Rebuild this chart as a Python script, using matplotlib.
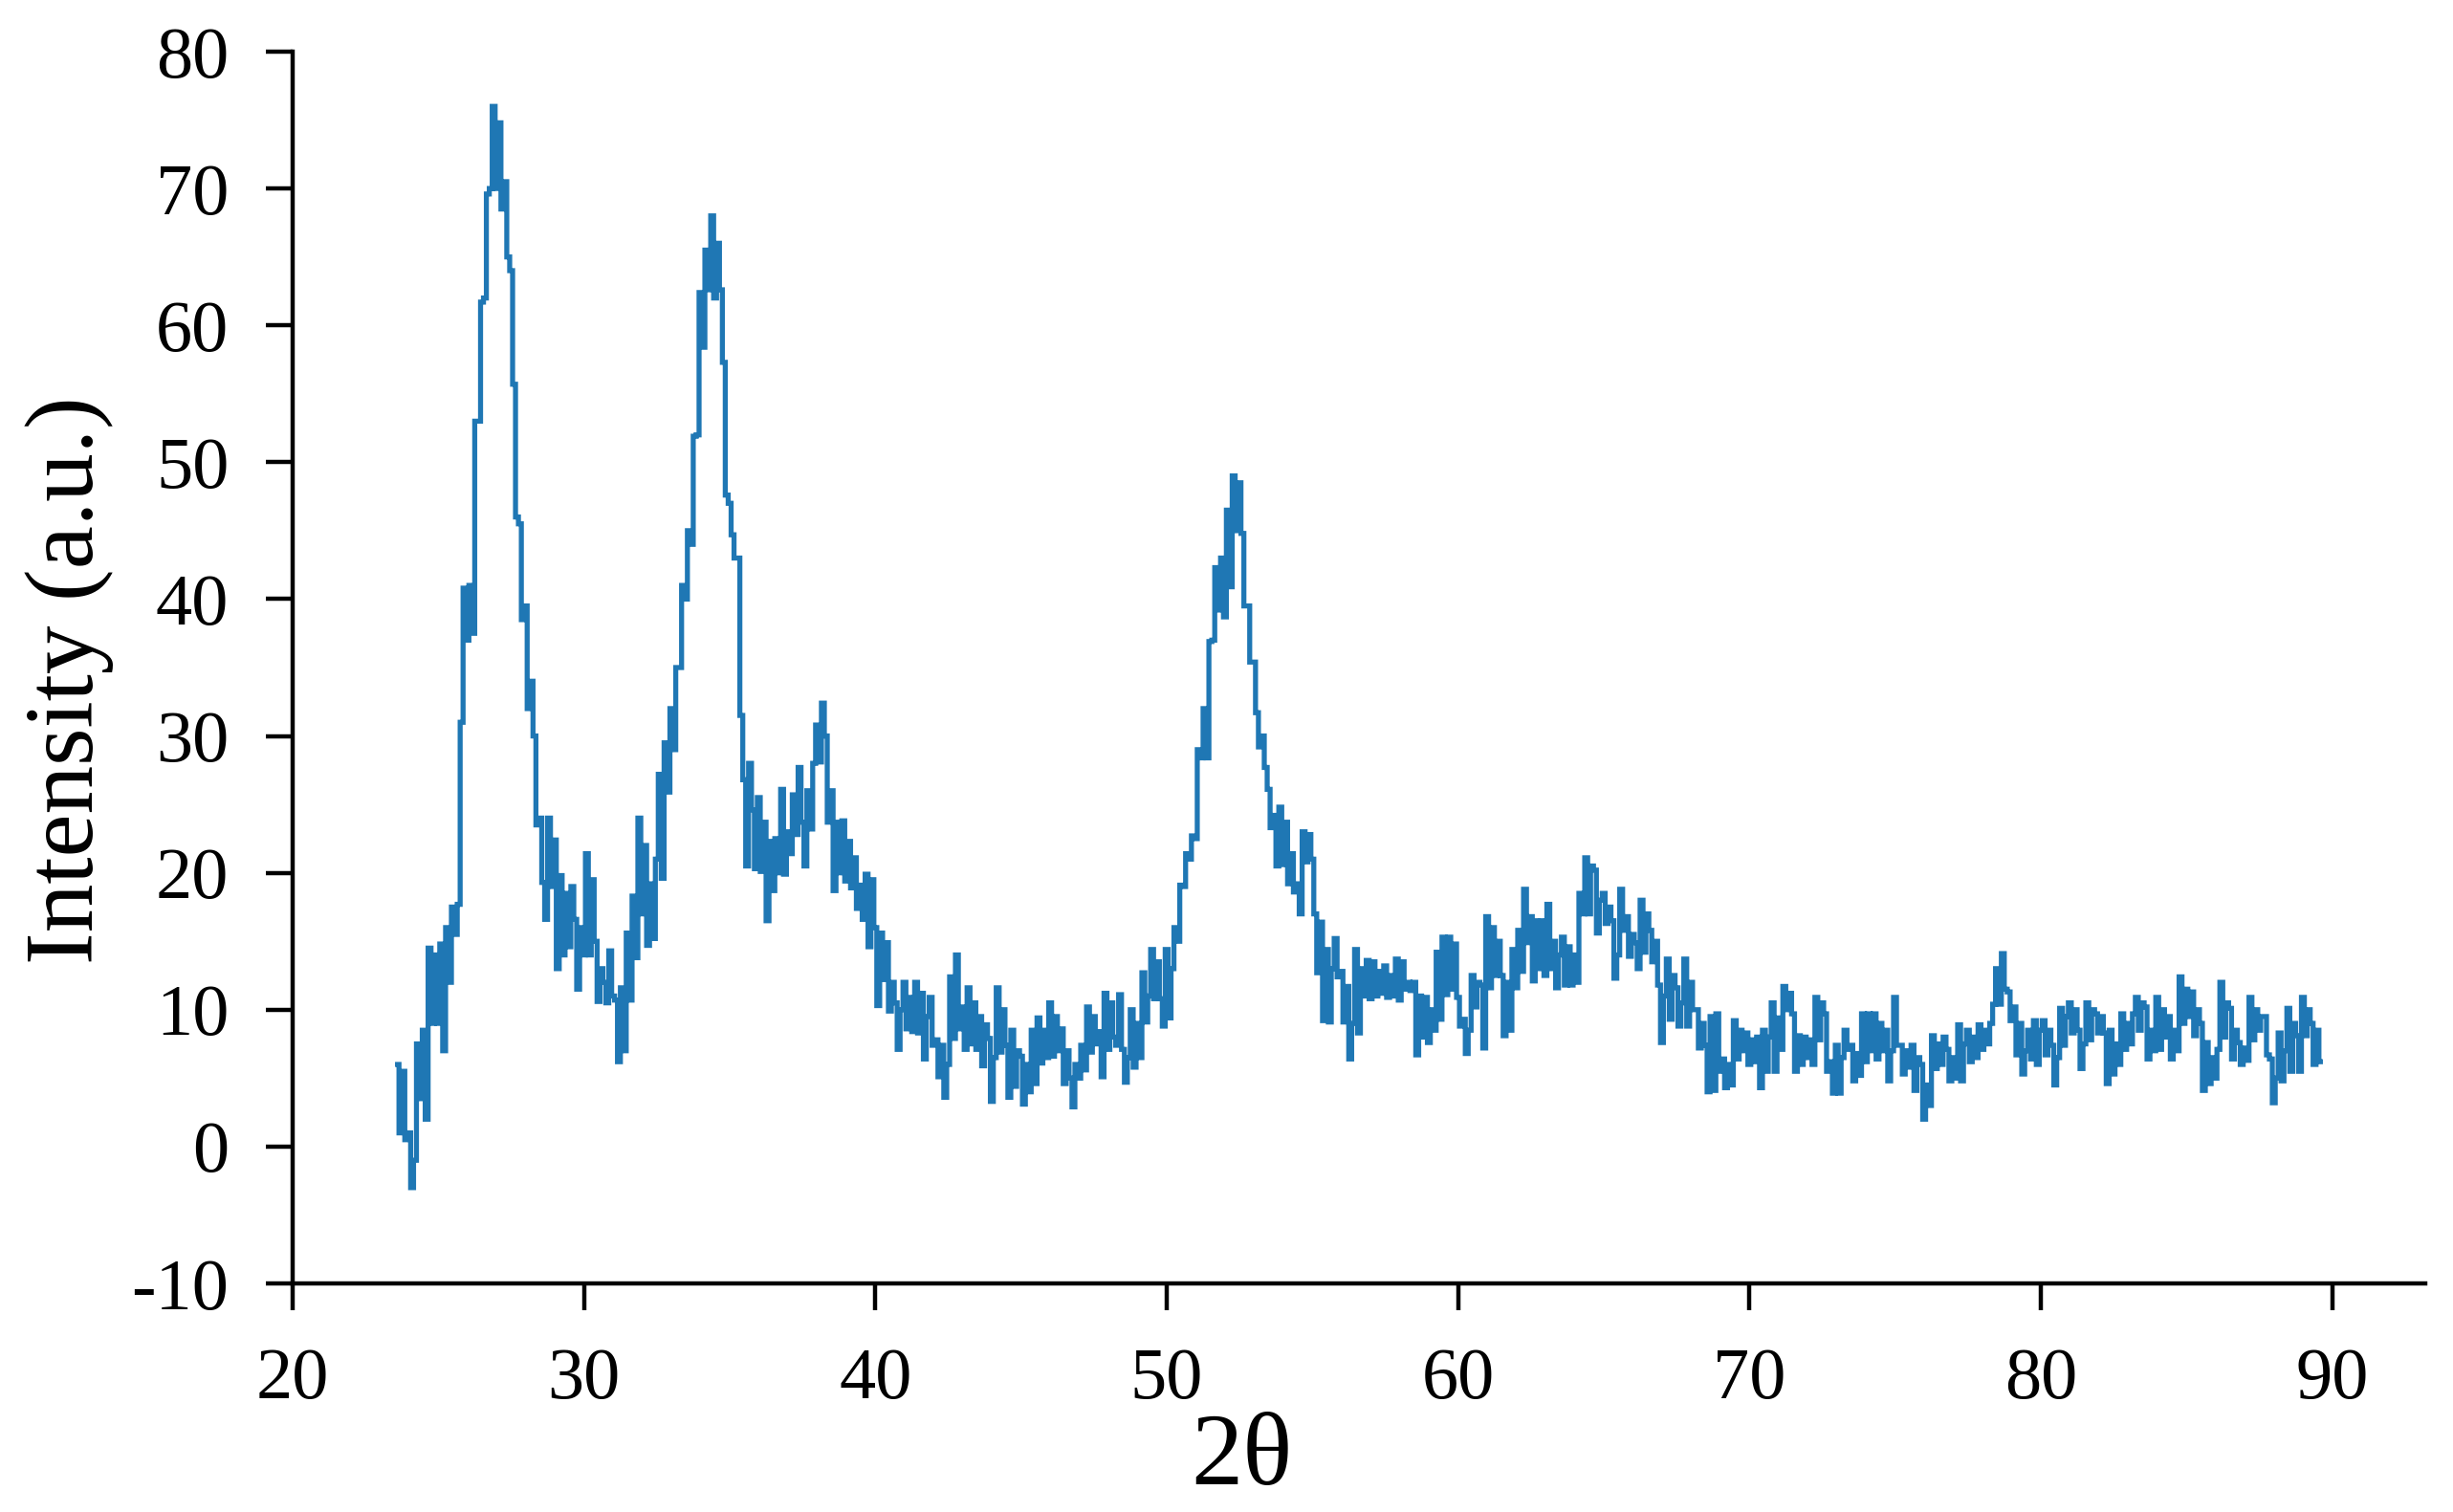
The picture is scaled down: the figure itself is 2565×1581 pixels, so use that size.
import numpy as np
import matplotlib
matplotlib.use("Agg")
import matplotlib.pyplot as plt

# 2-theta grid (0.1 degree steps from 23.6 to 89.6)
two_theta = np.round(np.arange(236, 897) / 10.0, 1)

intensity = [
    # 23.6 - 23.9
    6, 1, 5.5, 0.5,
    # 24
    1, -3, -1, 7.5, 3.5, 8.5, 2, 14.5, 9, 14,
    # 25
    9, 14.8, 7, 16, 12, 17.5, 15.5, 17.7, 31, 40.8,
    # 26
    37, 41, 37.5, 53, 53, 61.7, 62, 69.6, 70, 76,
    # 27
    70, 74.8, 68.5, 70.5, 65, 64, 55.7, 46, 45.5, 38.5,
    # 28
    39.5, 32, 34, 30, 23.5, 24, 19.3, 16.6, 24, 19,
    # 29
    22.4, 13, 19.8, 14, 18.5, 14.6, 19, 16.6, 11.5, 16,
    # 30
    14, 21.4, 14, 19.5, 15, 10.6, 13, 12, 10.5, 14.3,
    # 31
    11, 10.7, 6.2, 11.6, 7, 15.6, 10.7, 18.3, 13.8, 24,
    # 32
    17, 22, 14.7, 19.2, 15.2, 21, 27.2, 19.6, 29.5, 25.9,
    # 33
    32, 29, 35, 35, 41, 40, 45, 44, 51.9, 52,
    # 34
    62.4, 58.4, 65.5, 62.6, 68, 62, 66, 62.6, 57.3, 47.6,
    # 35
    47, 44.7, 43, 43, 31.5, 26.8, 20.5, 28, 24.6, 20.3,
    # 36
    25.5, 20.1, 23.7, 16.5, 22.3, 18.7, 22.5, 20, 26.1, 19.9,
    # 37
    23, 21.4, 25.7, 22.8, 27.7, 23.7, 20.5, 26, 23.2, 28,
    # 38
    30.8, 28.1, 32.4, 30, 23.7, 26, 18.7, 23.7, 20, 23.8,
    # 39
    19.4, 22.3, 18.9, 21.1, 17.4, 19.1, 16.6, 19.9, 14.6, 19.5,
    # 40
    16, 10.3, 15.6, 12.2, 14.9, 9.9, 12, 10.5, 7.1, 10,
    # 41
    12, 8.6, 10.9, 8.4, 12, 8.3, 11.2, 6.4, 9.5, 10.9,
    # 42
    7.4, 7.8, 5.1, 7.4, 3.6, 6, 12.4, 7.9, 14, 8.6,
    # 43
    10.2, 7.1, 11.6, 7.5, 10.5, 7.1, 9.5, 5.9, 8.9, 7.9,
    # 44
    3.3, 6.5, 11.6, 6.9, 10, 7.4, 3.6, 8.5, 4.4, 7,
    # 45
    6.6, 3.1, 6, 4, 8.5, 4.6, 9.4, 6.1, 8.5, 6.5,
    # 46
    10.5, 6.6, 9.5, 7, 8.6, 4.6, 7, 5, 2.9, 6,
    # 47
    5, 7.4, 5.6, 10.2, 6.9, 9.5, 7.5, 8.4, 5.1, 11.2,
    # 48
    7.1, 10.5, 8, 7.4, 11.1, 7.1, 4.7, 6.5, 10, 5.8,
    # 49
    9, 6.5, 12.7, 9.1, 11, 14.4, 10.8, 13.5, 10.8, 8.8,
    # 50
    14.4, 9.4, 13, 16, 15, 19.1, 19, 21.4, 21, 22.7,
    # 51
    22.5, 29, 28.4, 32, 28.4, 36.9, 37, 42.3, 39.2, 43,
    # 52
    38.7, 46.5, 40.9, 49, 45, 48.5, 44.8, 39.5, 39.5, 35.4,
    # 53
    35.4, 31.7, 29.2, 30, 27.7, 26.1, 23.3, 24.2, 20.5, 24.8,
    # 54
    20.6, 23.7, 19.2, 21.4, 18.6, 19.2, 17, 23, 20.8, 22.8,
    # 55
    21, 17, 12.7, 16.4, 9.2, 14.4, 9.1, 13, 15.2, 12.4,
    # 56
    12.8, 9.1, 11.7, 6.4, 9, 14.4, 8.3, 13, 11, 13.6,
    # 57
    10.8, 13.5, 11, 12.8, 11.2, 13.2, 10.9, 12.5, 11, 13.7,
    # 58
    10.7, 13.5, 11.5, 12, 11.4, 12, 6.7, 11, 8, 10.9,
    # 59
    7.6, 10, 8.5, 14.2, 9.3, 15.3, 11.1, 15.3, 11.5, 14.8,
    # 60
    10.9, 8.8, 9.3, 6.8, 8.5, 12.5, 10.2, 12, 11.8, 7.2,
    # 61
    16.8, 11.6, 16, 12.5, 15, 12.5, 8.1, 12, 8.5, 14.4,
    # 62
    11.6, 15.8, 12.8, 18.8, 14.9, 16.8, 12.1, 16.5, 13, 16.5,
    # 63
    12.5, 17.7, 13, 15, 11.6, 14, 15.3, 11.8, 14.6, 11.8,
    # 64
    14, 12, 18.5, 17, 21.1, 17, 20.5, 20.2, 15.6, 18,
    # 65
    18.5, 16.3, 17.5, 16.5, 12.3, 14, 18.8, 15.8, 16.8, 13.9,
    # 66
    15.5, 14.9, 13, 18, 14.2, 17, 15.8, 13.5, 15, 11.8,
    # 67
    7.6, 11, 13.7, 9.3, 12.5, 11.6, 8.8, 10.5, 13.7, 8.8,
    # 68
    12, 10, 10, 7.2, 9, 7.4, 4, 9.5, 4.1, 9.7,
    # 69
    5.5, 6.4, 4.3, 6, 4.5, 9.2, 6.4, 8.5, 7, 8.3,
    # 70
    6, 7.8, 6.2, 8, 4.3, 8.5, 5.5, 8, 10.5, 5.5,
    # 71
    9.4, 7.1, 11.7, 10, 11.2, 9.7, 5.5, 8.1, 6, 8,
    # 72
    6.5, 7.8, 6, 10.9, 7.8, 10.5, 9.7, 5.5, 6.2, 3.9,
    # 73
    7.4, 3.9, 6.5, 8.5, 7.1, 7.4, 4.8, 6.8, 5.2, 9.7,
    # 74
    6.2, 9.7, 7, 9.7, 6.4, 9, 7, 8.5, 4.8, 7,
    # 75
    10.9, 7.4, 7.4, 5.3, 7, 5.8, 7.4, 4.1, 6.5, 6,
    # 76
    2, 4.5, 3, 8.1, 5.7, 7.5, 6, 8, 7.1, 4.8,
    # 77
    6.5, 5, 8.9, 4.8, 7.5, 8.5, 6.2, 8, 6.5, 8.9,
    # 78
    7.1, 8.5, 7.5, 9, 10.4, 13, 10.4, 14.1, 11.5, 11.3,
    # 79
    9.2, 10.2, 6.7, 9, 5.3, 7, 8.5, 6.4, 9.2, 6,
    # 80
    8.5, 9.2, 6.7, 8.5, 7.4, 4.5, 6.5, 10.1, 7.4, 9.5,
    # 81
    10.5, 8.3, 10, 8.5, 5.7, 7.5, 10.5, 7.8, 10, 9.7,
    # 82
    8.3, 9.5, 8.3, 4.6, 8.5, 5.3, 7.5, 6, 9.7, 7.1,
    # 83
    9, 7.5, 9.7, 10.9, 8.5, 10.5, 10.2, 6.4, 8.5, 7,
    # 84
    10.9, 7.1, 10, 8, 9.5, 6.4, 8.5, 7, 12.4, 9,
    # 85
    11.5, 9.5, 11.3, 8.1, 10, 9, 4.1, 7.6, 4.6, 6.5,
    # 86
    5, 7.1, 12, 8, 10.5, 10.1, 6.4, 8.5, 7.6, 6,
    # 87
    7.2, 6.3, 10.9, 7.8, 10, 8.5, 9.5, 9.5, 6.7, 6.4,
    # 88
    3.2, 5, 8.3, 4.8, 7, 10.1, 5.5, 9, 8.1, 5.5,
    # 89.0 - 89.6
    10.9, 8.1, 10, 9, 6, 8.5, 6.2,
]

x_ticks = [20, 30, 40, 50, 60, 70, 80, 90]
y_ticks = [-10, 0, 10, 20, 30, 40, 50, 60, 70, 80]
x_label = "2θ"
y_label = "Intensity (a.u.)"

plt.rcParams["font.family"] = ["Liberation Serif", "DejaVu Serif"]
plt.rcParams["axes.unicode_minus"] = False

W, H = 2565, 1581
fig = plt.figure(figsize=(W / 100, H / 100), dpi=100)
left, right, top, bottom = 306, 2536, 54, 1342
ax = fig.add_axes([left / W, (H - bottom) / H, (right - left) / W, (bottom - top) / H])

ax.plot(two_theta, intensity, color="#1f77b4", lw=3.8, drawstyle="steps-mid",
        solid_joinstyle="miter")

ax.set_xlim(20, 93.2)
ax.set_ylim(-10, 80)
ax.set_xticks(x_ticks)
ax.set_yticks(y_ticks)

for s in ["top", "right"]:
    ax.spines[s].set_visible(False)
for s in ["left", "bottom"]:
    ax.spines[s].set_linewidth(3.2)

ax.tick_params(axis="both", direction="out", length=20, width=3.2,
               labelsize=55, pad=28, colors="black")

ax.set_xlabel(x_label, fontsize=78)
ax.xaxis.set_label_coords(0.445, -0.105)
ax.set_ylabel(y_label, fontsize=73)
ax.yaxis.set_label_coords(-0.084, 0.49)

fig.savefig("out.png", dpi=100)
